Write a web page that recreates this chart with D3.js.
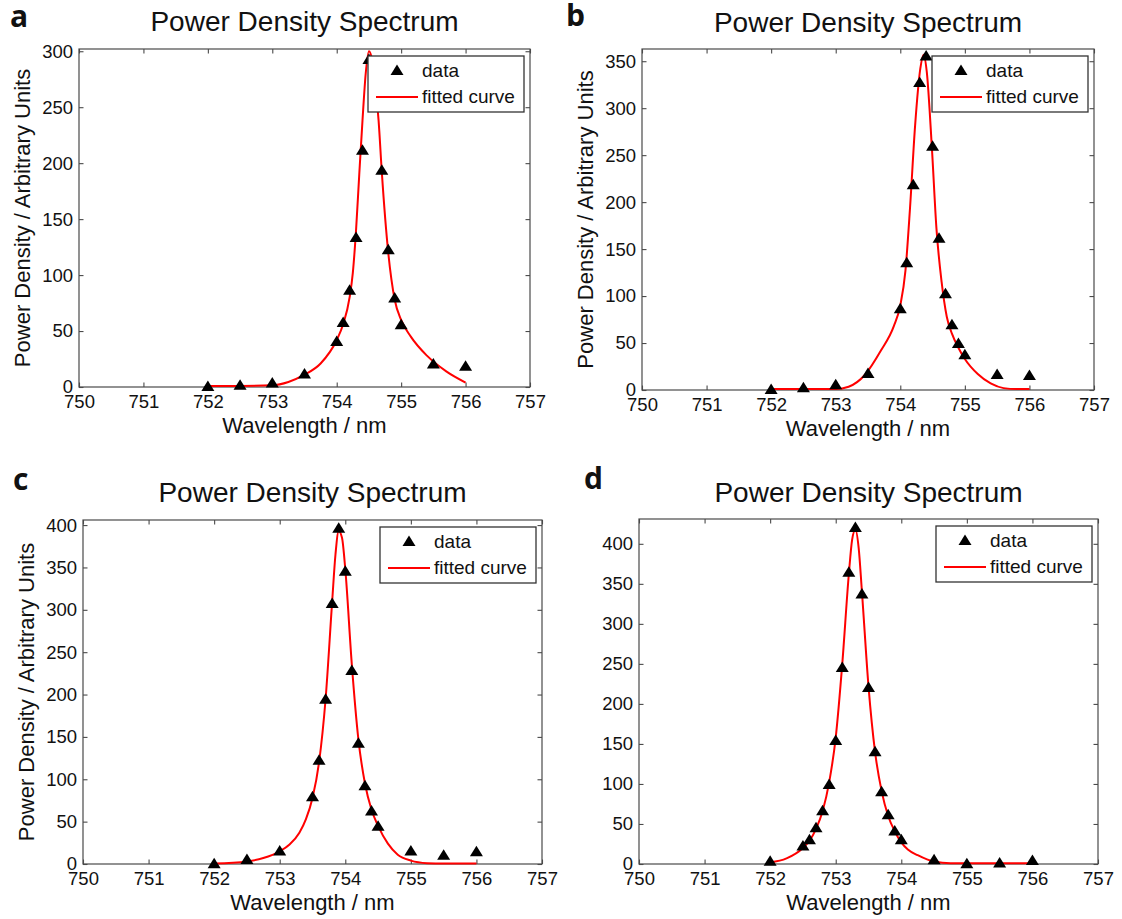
<!DOCTYPE html>
<html><head><meta charset="utf-8">
<script src="https://cdn.jsdelivr.net/npm/d3@7"></script>
<style>body{margin:0;background:#fff} text{font-family:"Liberation Sans",Arial,Helvetica,sans-serif;fill:#111}</style>
</head><body>
<svg id="chart" width="1122" height="919"></svg>
<script>
// ---------- data ----------
const xTicks = [750, 751, 752, 753, 754, 755, 756, 757];
const panelLetters = ["a", "b", "c", "d"];
const titleText = "Power Density Spectrum";
const xLabelText = "Wavelength / nm";
const yLabelText = "Power Density / Arbitrary Units";
const legendLabels = ["data", "fitted curve"];
const yLimits = [302, 363, 406, 431];
const yTicksA = [0, 50, 100, 150, 200, 250, 300];
const yTicksB = [0, 50, 100, 150, 200, 250, 300, 350];
const yTicksC = [0, 50, 100, 150, 200, 250, 300, 350, 400];
const yTicksD = [0, 50, 100, 150, 200, 250, 300, 350, 400];

const aDataX = [752, 752.5, 753, 753.5, 754, 754.1, 754.2, 754.3, 754.4, 754.5, 754.7, 754.8, 754.9, 755, 755.5, 756];
const aDataY = [1, 2, 4, 12, 41, 58, 87, 134, 212, 293, 194, 123, 80, 56, 21, 19];
const aCurveX = [752, 752.5, 753, 753.25, 753.5, 753.75, 754, 754.1, 754.2, 754.25, 754.3, 754.35, 754.4, 754.45, 754.5, 754.55, 754.6, 754.65, 754.7, 754.8, 754.9, 755, 755.15, 755.4, 755.7, 756];
const aCurveY = [1, 1, 1.5, 4.5, 11, 21, 42, 56, 80, 102, 140, 190, 238, 280, 300, 292, 268, 238, 192, 120, 78, 60, 45, 28, 14, 4];

const bDataX = [752, 752.5, 753, 753.5, 754, 754.1, 754.2, 754.3, 754.4, 754.5, 754.6, 754.7, 754.8, 754.9, 755, 755.5, 756];
const bDataY = [1, 3, 6, 18, 87, 136, 219, 328, 356, 260, 162, 103, 70, 50, 38, 17, 16];
const bCurveX = [752, 752.5, 753, 753.2, 753.45, 753.7, 753.9, 754, 754.08, 754.15, 754.23, 754.31, 754.36, 754.41, 754.49, 754.56, 754.64, 754.72, 754.8, 754.9, 755, 755.2, 755.4, 755.6, 755.8, 756];
const bCurveY = [1, 1, 1, 3.5, 16, 42, 68, 90, 127, 193, 282, 342, 357, 339, 257, 172, 115, 78, 60, 45, 33, 17, 7, 2, 1, 1];

const cDataX = [752, 752.5, 753, 753.5, 753.6, 753.7, 753.8, 753.9, 754, 754.1, 754.2, 754.3, 754.4, 754.5, 755, 755.5, 756];
const cDataY = [1, 6, 16, 80, 123, 195, 308, 397, 346, 229, 143, 93, 63, 45, 16, 11, 15];
const cCurveX = [752, 752.5, 752.75, 753, 753.15, 753.3, 753.4, 753.5, 753.6, 753.7, 753.8, 753.85, 753.9, 753.95, 754, 754.1, 754.2, 754.3, 754.4, 754.5, 754.65, 754.8, 755, 755.25, 755.5, 756];
const cCurveY = [0.5, 3, 7, 15, 23, 37, 53, 78, 120, 195, 310, 365, 393, 385, 348, 235, 147, 95, 64, 45, 24, 11, 4, 1, 0.5, 0.5];

const dDataX = [752, 752.5, 752.6, 752.7, 752.8, 752.9, 753, 753.1, 753.2, 753.3, 753.4, 753.5, 753.6, 753.7, 753.8, 753.9, 754, 754.5, 755, 755.5, 756];
const dDataY = [4, 23, 31, 46, 67, 100, 155, 246, 365, 421, 338, 221, 141, 91, 62, 42, 31, 6, 1, 2, 5];
const dCurveX = [752, 752.25, 752.5, 752.6, 752.7, 752.8, 752.9, 753, 753.1, 753.2, 753.25, 753.3, 753.35, 753.4, 753.5, 753.6, 753.7, 753.8, 753.9, 754, 754.1, 754.25, 754.5, 754.75, 755, 756];
const dCurveY = [2, 7, 20, 29, 44, 66, 102, 158, 250, 362, 405, 418, 395, 340, 222, 140, 91, 60, 41, 27, 18, 11, 3, 1, 1, 1];

// ---------- layout ----------
const svg = d3.select("#chart");
svg.append("rect").attr("width", 1122).attr("height", 919).attr("fill", "#fff");

const panels = [
  { dx: aDataX, dy: aDataY, cx: aCurveX, cy: aCurveY, yTicks: yTicksA, box: { l: 79, r: 530, t: 49, b: 387 }, ylab: true, letter: [10, 27], titleY: 31 },
  { dx: bDataX, dy: bDataY, cx: bCurveX, cy: bCurveY, yTicks: yTicksB, box: { l: 642, r: 1094, t: 49, b: 390 }, ylab: true, letter: [566, 26], titleY: 32 },
  { dx: cDataX, dy: cDataY, cx: cCurveX, cy: cCurveY, yTicks: yTicksC, box: { l: 83, r: 542, t: 520, b: 864 }, ylab: true, letter: [13, 490], titleY: 502 },
  { dx: dDataX, dy: dDataY, cx: dCurveX, cy: dCurveY, yTicks: yTicksD, box: { l: 639, r: 1098, t: 519, b: 864 }, ylab: false, letter: [584, 489], titleY: 502 }
];

const tri = "M0,-5.5L6.5,5L-6.5,5Z";
const axisColor = "#4a4a4a";

panels.forEach((p, i) => {
  const B = p.box;
  const x = d3.scaleLinear().domain([xTicks[0], xTicks[xTicks.length - 1]]).range([B.l, B.r]);
  const y = d3.scaleLinear().domain([0, yLimits[i]]).range([B.b, B.t]);
  const g = svg.append("g");

  // frame
  g.append("rect").attr("x", B.l).attr("y", B.t).attr("width", B.r - B.l).attr("height", B.b - B.t)
    .attr("fill", "none").attr("stroke", axisColor).attr("stroke-width", 1.2);

  const style = sel => {
    sel.select(".domain").remove();
    sel.selectAll("line").attr("stroke", axisColor).attr("stroke-width", 1.1);
    sel.selectAll("text").style("font-size", "18.5px").attr("fill", "#111")
      .style("font-family", '"Liberation Sans",Arial,sans-serif');
  };
  g.append("g").attr("transform", `translate(0,${B.b})`)
    .call(d3.axisBottom(x).tickValues(xTicks).tickFormat(d3.format("d")).tickSizeInner(-4.5).tickSizeOuter(0).tickPadding(8)).call(style);
  g.append("g").attr("transform", `translate(0,${B.t})`)
    .call(d3.axisTop(x).tickValues(xTicks).tickFormat("").tickSizeInner(-4.5).tickSizeOuter(0)).call(style);
  g.append("g").attr("transform", `translate(${B.l},0)`)
    .call(d3.axisLeft(y).tickValues(p.yTicks).tickFormat(d3.format("d")).tickSizeInner(-4.5).tickSizeOuter(0).tickPadding(6)).call(style);
  g.append("g").attr("transform", `translate(${B.r},0)`)
    .call(d3.axisRight(y).tickValues(p.yTicks).tickFormat("").tickSizeInner(-4.5).tickSizeOuter(0)).call(style);

  // curve
  const curvePts = p.cx.map((v, k) => [v, p.cy[k]]);
  g.append("path").datum(curvePts)
    .attr("d", d3.line().x(d => x(d[0])).y(d => y(d[1])).curve(d3.curveMonotoneX))
    .attr("fill", "none").attr("stroke", "#ff0000").attr("stroke-width", 2);

  // data markers
  const dataPts = p.dx.map((v, k) => [v, p.dy[k]]);
  g.selectAll("path.pt").data(dataPts).enter().append("path").attr("class", "pt")
    .attr("d", tri).attr("transform", d => `translate(${x(d[0])},${y(d[1])})`).attr("fill", "#000");

  // title, labels
  const cxm = (B.l + B.r) / 2;
  g.append("text").attr("x", cxm).attr("y", p.titleY).attr("text-anchor", "middle")
    .style("font-size", "28px").text(titleText);
  g.append("text").attr("x", cxm).attr("y", B.b + 46).attr("text-anchor", "middle")
    .style("font-size", "22px").text(xLabelText);
  if (p.ylab) {
    g.append("text").attr("transform", `translate(${B.l - 49},${(B.t + B.b) / 2}) rotate(-90)`)
      .attr("text-anchor", "middle").style("font-size", "22px").text(yLabelText);
  }
  g.append("text").attr("x", p.letter[0]).attr("y", p.letter[1])
    .style("font-size", "30px").style("font-weight", "bold")
    .style("font-family", '"Open Sans","Liberation Sans",sans-serif').text(panelLetters[i]);

  // legend
  const lw = 156, lh = 56;
  const lx = B.r - 6 - lw, ly = B.t + 7;
  const lg = g.append("g").attr("transform", `translate(${lx},${ly})`);
  lg.append("rect").attr("width", lw).attr("height", lh).attr("fill", "#fff")
    .attr("stroke", "#333").attr("stroke-width", 1.3);
  lg.append("path").attr("d", tri).attr("transform", "translate(29,14)").attr("fill", "#000");
  lg.append("text").attr("x", 54).attr("y", 21).style("font-size", "19px").text(legendLabels[0]);
  lg.append("line").attr("x1", 8).attr("x2", 50).attr("y1", 41).attr("y2", 41)
    .attr("stroke", "#ff0000").attr("stroke-width", 2);
  lg.append("text").attr("x", 54).attr("y", 47).style("font-size", "19px").text(legendLabels[1]);
});
</script>
</body></html>
